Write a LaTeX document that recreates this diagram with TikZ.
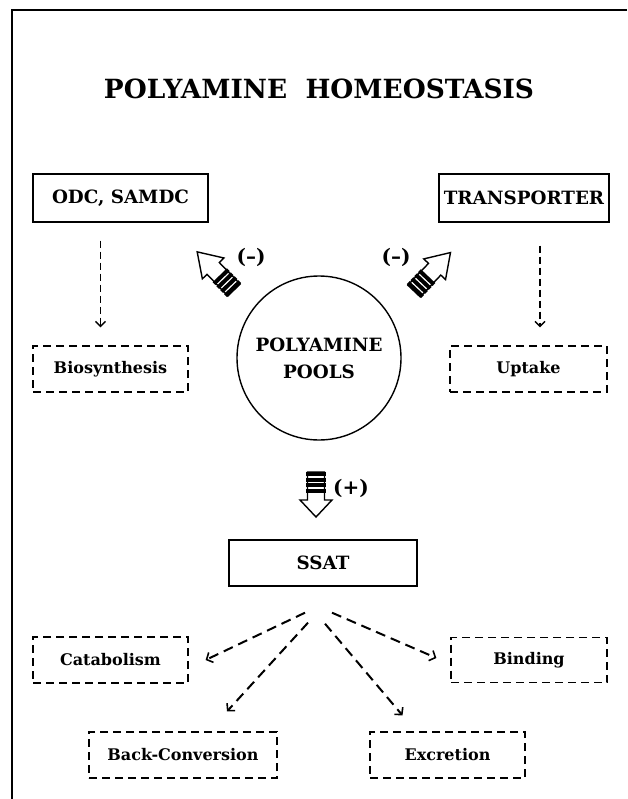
\documentclass[tikz,border=0pt]{standalone}
\usepackage{fontspec}
\setmainfont{DejaVu Serif}
\usetikzlibrary{arrows.meta,calc}
\tikzset{
  lbl/.style={font=\bfseries\fontsize{16}{19}\selectfont, inner sep=0pt},
  caps/.style={font=\bfseries\fontsize{18.3}{21}\selectfont},
  solidbox/.style={lbl, caps, draw, line width=1.4pt, minimum height=48pt},
  dbox/.style={lbl, draw, line width=1.2pt, dash pattern=on 8pt off 5pt, minimum width=155pt, minimum height=46pt},
  thinarrow/.style={line width=1.6pt, dash pattern=on 7pt off 4pt, -{Straight Barb[length=5pt,width=10pt,line width=1.4pt]}},
  ssatarrow/.style={line width=2pt, dash pattern=on 10pt off 6pt, -{Straight Barb[length=5pt,width=11pt,line width=1.6pt]}},
  sign/.style={font=\bfseries\fontsize{20}{24}\selectfont, inner sep=0pt},
  pics/fatarrow/.style n args={3}{code={
    \filldraw[fill=white, line width=1.4pt, line join=miter]
      (0,-8.5) -- (#2,-8.5) -- (#2,-#3) -- (#1,0) -- (#2,#3) -- (#2,8.5) -- (0,8.5) -- cycle;
    \foreach \u in {0,5.5,11,16.5} \fill (\u,-10) rectangle ++(4,20);
  }}
}
\begin{document}
\begin{tikzpicture}[x=1pt,y=-1pt]
  \useasboundingbox (0,0) rectangle (627,799);
  % frame
  \draw[line width=1.6pt] (627,10) -- (12,10) -- (12,799);
  % title
  \node[font=\bfseries\fontsize{26.4}{30}\selectfont, inner sep=0pt] (title) at (319,89) {POLYAMINE\ \ HOMEOSTASIS};
  % top boxes
  \node[solidbox, minimum width=175pt] (odc) at (120.5,198) {ODC, SAMDC};
  \node[solidbox, minimum width=170pt] (trans) at (524,198) {TRANSPORTER};
  \node[dbox] (bio) at (110.5,369) {Biosynthesis};
  \node[dbox, minimum width=157pt] (upt) at (528.5,369) {Uptake};
  % pools
  \node[draw, circle, line width=1.4pt, minimum size=164pt, inner sep=0pt,
        font=\bfseries\fontsize{18.3}{27}\selectfont, align=center] (pool) at (319,358) {POLYAMINE\\POOLS};
  % SSAT and targets
  \node[solidbox, minimum width=188pt, minimum height=46pt] (ssat) at (323,563) {SSAT};
  \node[dbox] (cat) at (110.5,660) {Catabolism};
  \node[dbox, minimum width=156pt, minimum height=45pt] (bind) at (529,660) {Binding};
  \node[dbox, minimum width=188pt] (back) at (183,755) {Back-Conversion};
  \node[dbox] (exc) at (447.5,755) {Excretion};
  % vertical dashed arrows
  \draw[thinarrow] ($(odc.south)+(-20,18)$) -- ($(bio.north)+(-10,-18)$);
  \draw[thinarrow] ($(trans.south)+(16,23)$) -- ($(upt.north)+(11.5,-18)$);
  % SSAT dashed arrows
  \draw[ssatarrow] ($(ssat.south)+(-18,26)$) -- ($(cat.east)+(17,0)$);
  \draw[ssatarrow] ($(ssat.south)+(-15,36)$) -- ($(back.north)+(44,-20)$);
  \draw[ssatarrow] ($(ssat.south)+(2,37)$) -- ($(exc.north)+(-45,-16)$);
  \draw[ssatarrow] ($(ssat.south)+(9,26)$) -- ($(bind.west)+(-14,-2)$);
  % block arrows
  \pic[rotate=134] at (234,290) {fatarrow={53}{30}{15}};
  \pic[rotate=46.5] at (414,291) {fatarrow={53}{30}{15}};
  \pic[rotate=-90] at (316,472) {fatarrow={45}{28}{16}};
  % signs
  \node[sign] (m1) at (251,257) {(--)};
  \node[sign] (m2) at (396,257) {(--)};
  \node[sign] (p1) at (351,488) {(+)};
\end{tikzpicture}
\end{document}
